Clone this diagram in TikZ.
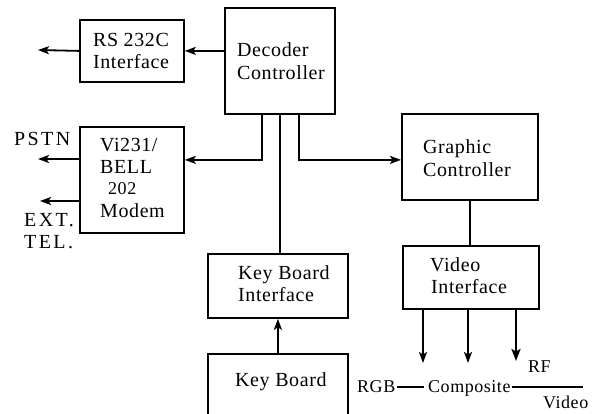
\documentclass[tikz,border=0pt]{standalone}
\usepackage{fontspec}
\setmainfont{Liberation Serif}[LetterSpace=3]
\newfontfamily\widefont{Liberation Serif}[LetterSpace=12]
\usetikzlibrary{arrows.meta}
\begin{document}
\begin{tikzpicture}[x=1pt,y=-1pt,
  box/.style={draw,line width=1.8pt,rectangle,inner sep=0pt,anchor=north west},
  txt/.style={anchor=base west,inner sep=0pt,font=\fontsize{20}{23}\selectfont},
  wide/.style={anchor=base west,inner sep=0pt,font=\widefont\fontsize{20}{23}\selectfont},
  small/.style={anchor=base west,inner sep=0pt,font=\fontsize{18}{20}\selectfont},
  ln/.style={line width=1.8pt},
  arr/.style={line width=1.8pt,-{Stealth[length=11pt,width=8pt,inset=2.5pt]}},
  arrb/.style={line width=2.6pt,-{Stealth[length=12pt,width=9pt,inset=2.5pt]}}]
\useasboundingbox (0,0) rectangle (598,414);
\clip (0,0) rectangle (598,414);
% boxes
\node[box,minimum width=110pt,minimum height=106pt] (dec) at (224,7) {};
\node[box,minimum width=104pt,minimum height=62pt] (rs) at (79,19) {};
\node[box,minimum width=104pt,minimum height=106pt] (mod) at (79,126) {};
\node[box,minimum width=136pt,minimum height=86pt] (gc) at (401,113) {};
\node[box,minimum width=136pt,minimum height=63pt] (vi) at (402,245) {};
\node[box,minimum width=140pt,minimum height=64pt] (kbi) at (207,253) {};
\node[box,minimum width=140pt,minimum height=80pt] (kb) at (207,353) {};
% texts
\node[txt] (t1) at (237,57) {Decoder};
\node[txt] (t2) at (237,80) {Controller};
\node[txt,anchor=base] (t3) at (131,47) {RS 232C};
\node[txt,anchor=base] (t4) at (131,69) {Interface};
\node[txt] (t5) at (100,152) {Vi231/};
\node[txt] (t6) at (100,174) {BELL};
\node[small] (t7) at (108,195) {202};
\node[txt] (t8) at (100,218) {Modem};
\node[txt] (t9) at (423,154) {Graphic};
\node[txt] (t10) at (423,177) {Controller};
\node[txt] (t11) at (430,272) {Video};
\node[txt] (t12) at (431,294) {Interface};
\node[txt] (t13) at (238,280) {Key Board};
\node[txt] (t14) at (238,302) {Interface};
\node[txt] (t15) at (235,387) {Key Board};
\node[wide] (t16) at (14,146) {PSTN};
\node[wide] (t17) at (24,227) {EXT.};
\node[wide] (t18) at (24,249) {TEL.};
\node[small] (t19) at (357,393) {RGB};
\node[small] (t20) at (428,393) {Composite};
\node[small] (t21) at (528,373) {RF};
\node[small] (t22) at (543,409) {Video};
% free ends
\coordinate (rsout) at (38,50);
\coordinate (pstn) at (38,159);
\coordinate (ext) at (40,201);
\coordinate (rgbend) at (423,363);
\coordinate (compend) at (468,363);
\coordinate (rfend) at (516,361);
\coordinate (rgbdash) at (424,387);
\coordinate (compline) at (583,387);
% connectors
\draw[arr] (rs.east -| dec.west) -- (rs.east);
\draw[arr] (rs.west) -- (rsout);
\draw[arr] ([xshift=-18pt]dec.south) |- ([yshift=20pt]mod.east);
\draw[arr] ([xshift=19pt]dec.south) |- ([yshift=-3pt]gc.west);
\draw[ln] (dec.south) -- (dec.south |- kbi.north);
\draw[arr] (kb.north) -- (kbi.south);
\draw[ln] (gc.south) -- (gc.south |- vi.north);
\draw[arr] (mod.west |- pstn) -- (pstn);
\draw[arr] (mod.west |- ext) -- (ext);
\draw[arr] (vi.south -| rgbend) -- (rgbend);
\draw[arr] (vi.south -| compend) -- (compend);
\draw[arrb] (vi.south -| rfend) -- (rfend);
\draw[line width=1.2pt] ([xshift=2pt]t19.east |- rgbdash) -- (rgbdash);
\draw[line width=1.2pt] ([xshift=1pt]t20.east |- compline) -- (compline);
\end{tikzpicture}
\end{document}
